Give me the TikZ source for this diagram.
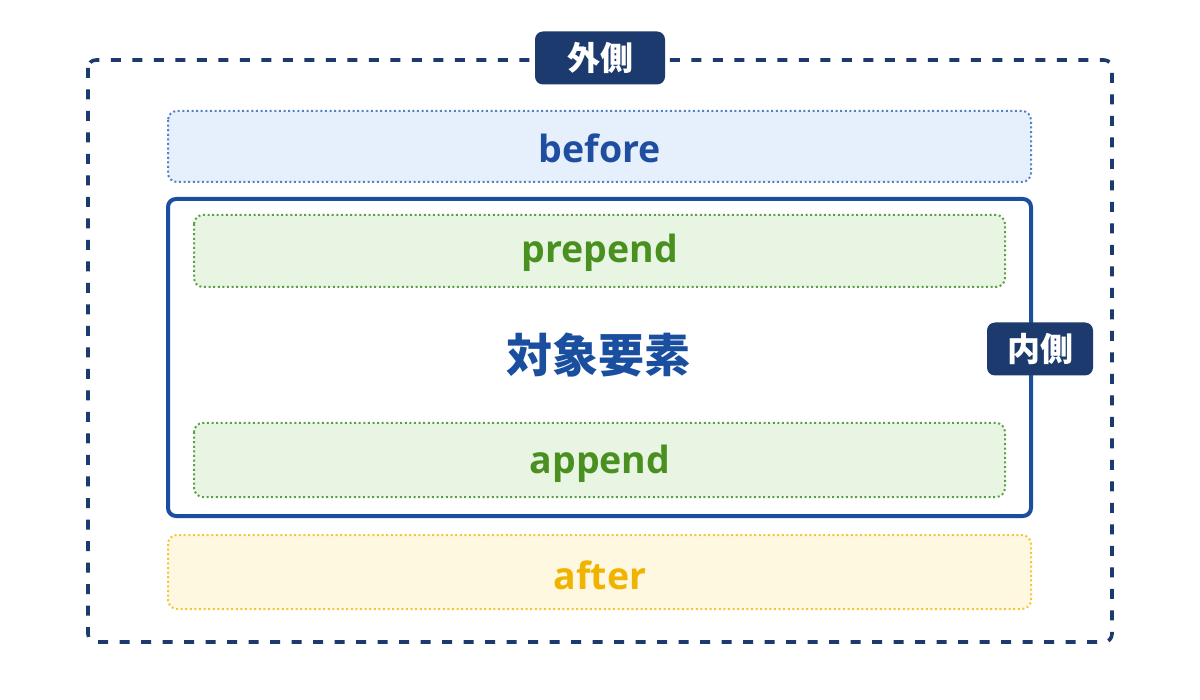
\documentclass[tikz,border=0pt]{standalone}
\usepackage{fontspec}
\setmainfont{Open Sans}
\newfontfamily\jpfont{Noto Sans CJK JP}
\begin{document}
\begin{tikzpicture}[x=1pt,y=-1pt,
  outerc/.style={draw=navyc, line width=3.6pt, dash pattern=on 10pt off 11.5pt, rounded corners=8pt},
  band/.style={line width=2pt, dash pattern=on 2pt off 2.6pt, rounded corners=9pt},
  tag/.style={fill=navyc, rounded corners=8pt, text=white, font=\jpfont\bfseries\fontsize{33}{33}\selectfont, minimum height=53pt, inner xsep=0pt},
  lbl/.style={font=\bfseries\fontsize{37.5}{37.5}\selectfont}
]
\definecolor{navyc}{HTML}{1C3A6E}
\definecolor{innerc}{HTML}{1A4FA0}
\definecolor{bluefill}{HTML}{E6F0FC}
\definecolor{bluedraw}{HTML}{5580C4}
\definecolor{bluetext}{HTML}{1F4EA0}
\definecolor{greenfill}{HTML}{E8F5E2}
\definecolor{greendraw}{HTML}{5AA045}
\definecolor{greentext}{HTML}{4A9020}
\definecolor{yellowfill}{HTML}{FFF8E1}
\definecolor{yellowdraw}{HTML}{F5C43A}
\definecolor{yellowtext}{HTML}{F0B400}
\useasboundingbox[fill=white] (0,0) rectangle (1200,700);
% outer
\draw[outerc] (88,60) rectangle (1112,642);
\node[tag, minimum width=130pt] (outerlbl) at (600,58) {外側};
% before
\draw[band, fill=bluefill, draw=bluedraw] (168,111) rectangle (1031,182);
\node[lbl, text=bluetext] (before) at (600,148) {before};
% inner
\draw[draw=innerc, line width=4pt, rounded corners=8pt, fill=white] (168,199) rectangle (1031,516);
\draw[band, fill=greenfill, draw=greendraw] (194,215) rectangle (1005,287);
\node[lbl, text=greentext] (prepend) at (600,253) {prepend};
\node[text=innerc, font=\jpfont\bfseries\fontsize{46}{46}\selectfont] (target) at (598,355) {対象要素};
\draw[band, fill=greenfill, draw=greendraw] (194,423) rectangle (1005,497);
\node[lbl, text=greentext] (append) at (600,464) {append};
\node[tag, minimum width=106pt] (innerlbl) at (1040,349) {内側};
% after
\draw[band, fill=yellowfill, draw=yellowdraw] (168,535) rectangle (1031,609);
\node[lbl, text=yellowtext] (after) at (600,575) {after};
\end{tikzpicture}
\end{document}
